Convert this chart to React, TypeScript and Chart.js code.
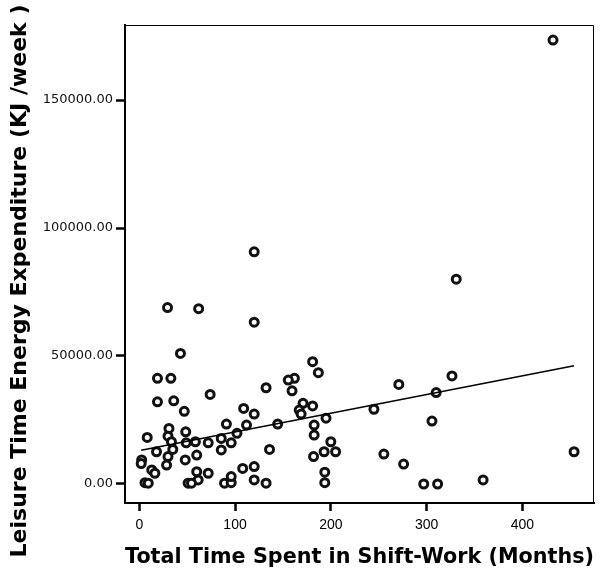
import React, { useEffect, useRef } from "react";
import { Chart, registerables } from "chart.js";

Chart.register(...registerables);

// Total time spent in shift-work (months)
const monthsValues: number[] = [
  432, 331, 120, 29.5, 62, 120, 43, 19, 33, 74,
  19, 36, 47, 109, 91, 112, 31, 48.5, 8.3, 30,
  33.6, 49, 58.6, 72, 85.6, 96, 102, 85.6, 18, 30,
  35, 48, 60, 2.5, 2, 28.5, 13, 16.3, 108, 60,
  72, 61.5, 6, 9.4, 51, 54.5, 89, 96, 96, 181,
  187, 162, 155.6, 159.5, 132.4, 171, 181, 120, 167, 144.5,
  169, 182.6, 195, 182.6, 136, 200, 193, 205, 182, 120,
  120, 132.4, 193.7, 193.7, 326.5, 271, 310, 245, 305.6, 255.4,
  276, 297, 311.5, 359, 454,
];

// Leisure time energy expenditure (KJ/week)
const energyValues: number[] = [
  173400, 80000, 90700, 68900, 68500, 63200, 51000, 41300, 41300, 35000,
  32100, 32500, 28400, 29500, 23400, 23000, 21700, 20400, 18200, 18700,
  16500, 16100, 16500, 16100, 17800, 16100, 19800, 13300, 12600, 10700,
  13500, 9400, 11300, 9400, 8000, 7400, 5500, 4200, 6100, 4800,
  4200, 1600, 500, 300, 300, 300, 300, 500, 2900, 47800,
  43500, 41300, 40600, 36400, 37600, 31500, 30500, 27300, 28900, 23400,
  27300, 23000, 25700, 19100, 13500, 16500, 12600, 12600, 10700, 6800,
  1600, 300, 4600, 500, 42200, 38900, 35700, 29200, 24600, 11700,
  7800, 0, 0, 1600, 12600,
];

// Linear fit line end points
const fitX: number[] = [2, 454];
const fitY: number[] = [13200, 46200];

const xTicks: number[] = [0, 100, 200, 300, 400];
const yTicks: number[] = [0, 50000, 100000, 150000];

const xTitle = "Total Time Spent in Shift-Work (Months)";
const yTitle = "Leisure Time Energy Expenditure (KJ /week )";

export default function App() {
  const canvasRef = useRef<HTMLCanvasElement | null>(null);

  useEffect(() => {
    if (!canvasRef.current) return;

    const framePlugin = {
      id: "frameAndTitle",
      afterDraw(chart: any) {
        const { ctx, chartArea } = chart;
        ctx.save();
        ctx.strokeStyle = "#000";
        ctx.lineWidth = 1;
        ctx.beginPath();
        ctx.moveTo(chartArea.left, chartArea.top + 0.5);
        ctx.lineTo(chartArea.right - 0.5, chartArea.top + 0.5);
        ctx.lineTo(chartArea.right - 0.5, chartArea.bottom);
        ctx.stroke();
        ctx.translate(20, 281);
        ctx.rotate(-Math.PI / 2);
        ctx.fillStyle = "#000";
        ctx.font = "bold 22px 'DejaVu Sans'";
        ctx.textAlign = "center";
        ctx.textBaseline = "middle";
        ctx.fillText(yTitle, 0, 0);
        ctx.restore();
      },
    };

    const chart = new Chart(canvasRef.current, {
      type: "scatter",
      data: {
        datasets: [
          {
            type: "line",
            data: fitX.map((x, i) => ({ x, y: fitY[i] })),
            borderColor: "#000",
            borderWidth: 1.5,
            pointRadius: 0,
            fill: false,
          } as any,
          {
            data: monthsValues.map((x, i) => ({ x, y: energyValues[i] })),
            pointStyle: "circle",
            pointRadius: 4,
            borderWidth: 3,
            backgroundColor: "#fff",
            borderColor: "#111",
          },
        ],
      },
      options: {
        animation: false,
        responsive: true,
        maintainAspectRatio: false,
        layout: { padding: { top: 25, right: 5, left: 0, bottom: 0 } },
        plugins: { legend: { display: false }, tooltip: { enabled: false } },
        scales: {
          x: {
            type: "linear",
            min: -14.9,
            max: 474.8,
            afterBuildTicks: (scale: any) => {
              scale.ticks = xTicks.map((v) => ({ value: v }));
            },
            afterFit: (scale: any) => {
              scale.height = 69;
            },
            grid: {
              drawOnChartArea: false,
              drawTicks: true,
              tickLength: 8,
              tickWidth: 2.5,
              tickColor: "#000",
            },
            border: { color: "#000", width: 2 },
            ticks: {
              color: "#000",
              padding: 6,
              font: { family: "'Liberation Sans Narrow', 'Arial Narrow', sans-serif", size: 14 },
            },
            title: {
              display: true,
              text: xTitle,
              color: "#000",
              font: { family: "'DejaVu Sans'", size: 21, weight: "bold" },
              padding: { top: 0, bottom: 2 },
            },
          },
          y: {
            type: "linear",
            min: -7422,
            max: 179297,
            afterBuildTicks: (scale: any) => {
              scale.ticks = yTicks.map((v) => ({ value: v }));
            },
            afterFit: (scale: any) => {
              scale.width = 125;
            },
            grid: {
              drawOnChartArea: false,
              drawTicks: true,
              tickLength: 9,
              tickWidth: 2.5,
              tickColor: "#000",
            },
            border: { color: "#000", width: 2 },
            ticks: {
              color: "#111",
              padding: 3,
              font: { family: "'DejaVu Sans'", size: 13 },
              callback: (v: any) => Number(v).toFixed(2),
            },
          },
        },
      },
      plugins: [framePlugin],
    });

    return () => chart.destroy();
  }, []);

  return (
    <div style={{ position: "fixed", left: 0, top: 0, width: 601, height: 572, background: "#fff" }}>
      <canvas ref={canvasRef} />
    </div>
  );
}
